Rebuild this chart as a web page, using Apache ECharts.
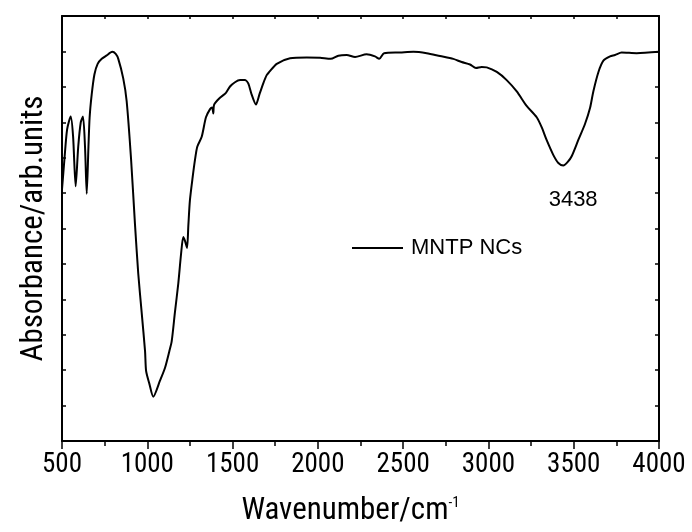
<!DOCTYPE html>
<html><head><meta charset="utf-8">
<script src="https://cdn.jsdelivr.net/npm/echarts@6/dist/echarts.min.js"></script>
<style>html,body{margin:0;padding:0;background:#fff}#c{width:692px;height:532px}</style>
</head><body><div id="c"></div>
<script>
const wavenumber = [500,515,530,551,565,580,595,610,623,635,645,655,662,674,690,709,733,760,795,815,830,859,879,905,928,947,967,987,993,1012,1035,1075,1104,1129,1143,1162,1182,1198,1211,1221,1233,1241,1250,1266,1280,1293,1319,1344,1368,1380,1387,1392,1426,1461,1485,1514,1544,1573,1592,1612,1637,1657,1680,1700,1715,1759,1837,1935,2013,2075,2120,2169,2218,2286,2335,2360,2388,2482,2560,2638,2716,2794,2843,2892,2927,2960,2990,3049,3107,3166,3224,3283,3312,3341,3380,3410,3439,3465,3488,3527,3566,3596,3615,3645,3674,3713,3742,3781,3869,4000];
const absorbance = [7.1,8.0,8.8,9.16,8.6,7.19,8.3,9.0,9.16,8.3,6.98,8.3,9.14,9.78,10.35,10.65,10.79,10.88,10.99,10.93,10.79,10.24,9.6,7.95,6.11,4.73,3.63,2.53,1.98,1.62,1.25,1.71,2.07,2.53,2.81,3.63,4.46,5.28,5.76,5.65,5.45,6.11,6.8,7.45,7.95,8.31,8.59,9.14,9.37,9.42,9.25,9.5,9.69,9.83,10.01,10.13,10.19,10.19,10.1,9.78,9.5,9.78,10.1,10.33,10.42,10.65,10.81,10.83,10.82,10.79,10.88,10.9,10.84,10.92,10.86,10.79,10.95,10.97,10.99,10.95,10.87,10.79,10.7,10.63,10.53,10.56,10.55,10.42,10.19,9.87,9.46,9.14,8.86,8.5,8.08,7.85,7.78,7.88,8.04,8.5,8.95,9.41,9.87,10.42,10.74,10.86,10.9,10.97,10.95,10.99];
const seriesName = 'MNTP NCs';
const peakLabel = '3438';
const peakPoint = [3438, 7.78];
const xTitle = 'Wavenumber/cm';
const xTitleSup = '-1';
const yTitle = 'Absorbance/arb.units';

const font = 'Liberation Sans, Arial, sans-serif';
const narrow = '"Roboto Condensed", "Liberation Sans", Arial, sans-serif';
const chart = echarts.init(document.getElementById('c'), null, {renderer:'canvas'});
const data = wavenumber.map((w,i)=>[w, absorbance[i]]);
chart.setOption({
  animation:false,
  backgroundColor:'#fff',
  grid:{left:62,right:33,top:16,bottom:80,containLabel:false},
  legend:{show:true,left:352,top:237,padding:0,icon:'rect',itemWidth:51,itemHeight:2,itemGap:10,
    textStyle:{fontFamily:font,fontSize:22,color:'#000',padding:[0,0,0,3]},
    itemStyle:{color:'#000'}, data:[seriesName]},
  xAxis:[{type:'value',position:'bottom',min:500,max:4000,interval:500,
    axisLine:{show:true,onZero:false,lineStyle:{color:'#000',width:2}},
    axisTick:{show:true,inside:false,length:8,lineStyle:{color:'#000',width:1.5}},
    minorTick:{show:true,splitNumber:2,length:5,lineStyle:{color:'#000',width:1.5}},
    splitLine:{show:false},
    axisLabel:{show:true,margin:11,fontFamily:narrow,fontSize:27,color:'#000',formatter:function(v){return String(v);}},
    name:'{a|'+xTitle+'}{s|'+xTitleSup+'}',nameLocation:'middle',nameGap:55,
    nameTextStyle:{fontFamily:narrow,fontSize:31,color:'#000',padding:[0,20,0,0],
      rich:{a:{fontFamily:narrow,fontSize:31,color:'#000'},s:{fontFamily:narrow,fontSize:15,color:'#000',verticalAlign:'top',padding:[0,0,14,0]}}}
  },{type:'value',position:'top',min:500,max:4000,interval:250,
    axisLine:{show:true,onZero:false,lineStyle:{color:'#000',width:2}},
    axisTick:{show:true,inside:true,length:3,lineStyle:{color:'#000',width:1.5}},
    axisLabel:{show:false},splitLine:{show:false}}],
  yAxis:[{type:'value',position:'left',min:0,max:12,interval:1,
    axisLine:{show:true,onZero:false,lineStyle:{color:'#000',width:2}},
    axisTick:{show:true,inside:true,length:4,lineStyle:{color:'#000',width:1.5}},
    axisLabel:{show:false},splitLine:{show:false},
    name:yTitle,nameLocation:'middle',nameGap:12,
    nameTextStyle:{fontFamily:narrow,fontSize:31,color:'#000'}
  },{type:'value',position:'right',min:0,max:12,interval:1,
    axisLine:{show:true,onZero:false,lineStyle:{color:'#000',width:2}},
    axisTick:{show:true,inside:true,length:4,lineStyle:{color:'#000',width:1.5}},
    axisLabel:{show:false},splitLine:{show:false}}],
  series:[{name:seriesName,type:'line',xAxisIndex:0,yAxisIndex:0,data:data,
    showSymbol:false,symbol:'none',smooth:0.25,
    lineStyle:{color:'#000',width:2},itemStyle:{color:'#000'},
    markPoint:{symbol:'circle',symbolSize:0,silent:true,
      label:{show:true,formatter:peakLabel,offset:[10,34],fontFamily:font,fontSize:22,color:'#000'},
      data:[{coord:peakPoint}]}
  }]
});
</script></body></html>
